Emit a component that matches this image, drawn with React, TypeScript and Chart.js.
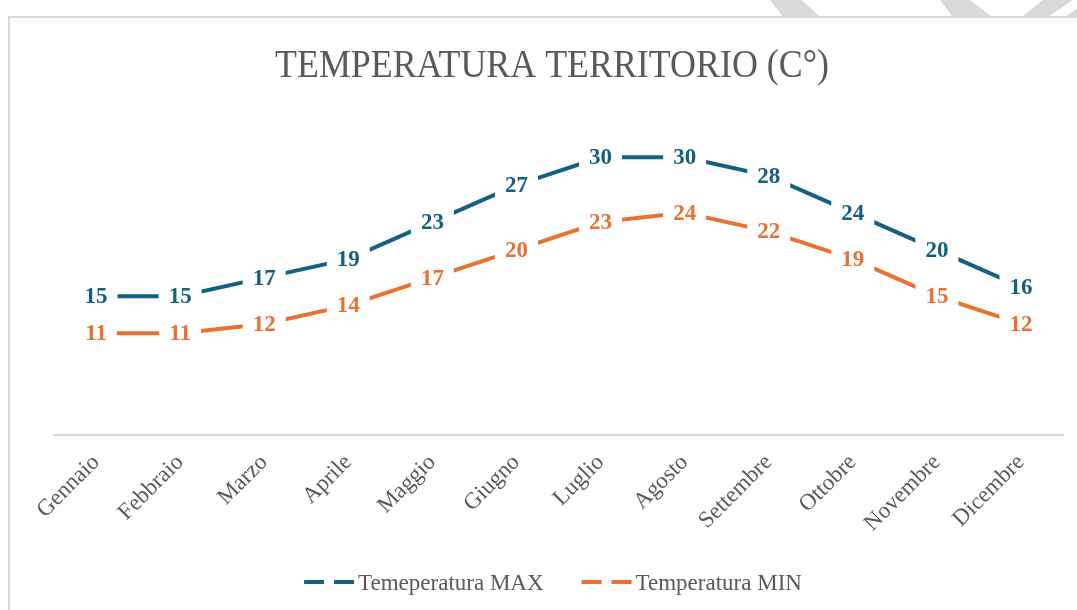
import React, { useEffect, useRef } from 'react';
import { Chart, registerables } from 'chart.js';

Chart.register(...registerables);

const months = ['Gennaio', 'Febbraio', 'Marzo', 'Aprile', 'Maggio', 'Giugno', 'Luglio', 'Agosto', 'Settembre', 'Ottobre', 'Novembre', 'Dicembre'];
const maxTemps = [15, 15, 17, 19, 23, 27, 30, 30, 28, 24, 20, 16];
const minTemps = [11, 11, 12, 14, 17, 20, 23, 24, 22, 19, 15, 12];
const seriesNames = ['Temeperatura MAX', 'Temperatura MIN'];
const seriesColors = ['#156082', '#E97132'];
const titleText = 'TEMPERATURA TERRITORIO (C°)';
const yRange = [0, 35];

const SERIF = '"Liberation Serif", "Times New Roman", serif';
const TEXT_GREY = '#595959';
const FRAME_GREY = '#d9d9d9';

const decorPlugin = {
  id: 'decor',
  beforeDraw(chart: any) {
    const ctx = chart.ctx;
    ctx.save();
    ctx.fillStyle = '#ffffff';
    ctx.fillRect(0, 0, chart.width, chart.height);
    // grey diagonal bands above the frame
    ctx.fillStyle = FRAME_GREY;
    const bands = [
      [[770, 0], [802, 0], [820, 17], [783, 17]],
      [[940, 0], [970, 0], [992, 17], [953, 17]],
      [[1043, 0], [1073, 0], [1048, 17], [1022, 17]],
      [[1090, 0], [1110, 0], [1110, 17], [1065, 17]],
    ];
    bands.forEach((b) => {
      ctx.beginPath();
      ctx.moveTo(b[0][0], b[0][1]);
      for (let i = 1; i < b.length; i++) ctx.lineTo(b[i][0], b[i][1]);
      ctx.closePath();
      ctx.fill();
    });
    // chart frame
    ctx.strokeStyle = FRAME_GREY;
    ctx.lineWidth = 2;
    ctx.strokeRect(9, 17, 1200, 700);
    ctx.restore();
  },
  afterDatasetsDraw(chart: any) {
    const ctx = chart.ctx;
    ctx.save();
    ctx.font = `bold 23px ${SERIF}`;
    ctx.textAlign = 'center';
    ctx.textBaseline = 'middle';
    chart.data.datasets.forEach((ds: any, di: number) => {
      const meta = chart.getDatasetMeta(di);
      meta.data.forEach((pt: any, i: number) => {
        const txt = String(ds.data[i]);
        const w = ctx.measureText(txt).width;
        ctx.fillStyle = '#ffffff';
        ctx.fillRect(pt.x - w / 2 - 10, pt.y - 14, w + 20, 28);
        ctx.fillStyle = seriesColors[di];
        ctx.fillText(txt, pt.x, pt.y + 1);
      });
    });
    ctx.restore();
  },
  afterDraw(chart: any) {
    const ctx = chart.ctx;
    ctx.save();
    // title (slightly condensed serif, as in the reference)
    ctx.save();
    ctx.translate(552, 77);
    ctx.scale(0.92, 1);
    ctx.font = `39px ${SERIF}`;
    ctx.fillStyle = TEXT_GREY;
    ctx.textAlign = 'center';
    ctx.textBaseline = 'alphabetic';
    ctx.fillText(titleText, 0, 0);
    ctx.restore();
    // legend
    ctx.font = `23px ${SERIF}`;
    const dashW = 20, dashGap = 10, textGap = 4, itemGap = 38;
    const symW = dashW * 2 + dashGap;
    const widths = seriesNames.map((n) => symW + textGap + ctx.measureText(n).width);
    const total = widths.reduce((a, b) => a + b, 0) + itemGap * (widths.length - 1);
    let x = 553 - total / 2;
    const yLine = 582;
    seriesNames.forEach((n, i) => {
      ctx.strokeStyle = seriesColors[i];
      ctx.lineWidth = 4;
      ctx.lineCap = 'butt';
      ctx.beginPath();
      ctx.moveTo(x, yLine);
      ctx.lineTo(x + dashW, yLine);
      ctx.moveTo(x + dashW + dashGap, yLine);
      ctx.lineTo(x + symW, yLine);
      ctx.stroke();
      ctx.fillStyle = TEXT_GREY;
      ctx.textAlign = 'left';
      ctx.fillText(n, x + symW + textGap, 590);
      x += widths[i] + itemGap;
    });
    ctx.restore();
  },
};

export default function App() {
  const ref = useRef<HTMLCanvasElement | null>(null);
  useEffect(() => {
    document.body.style.margin = '0';
    const canvas = ref.current;
    if (!canvas) return;
    const chart = new Chart(canvas, {
      type: 'line',
      data: {
        labels: months,
        datasets: [
          {
            label: seriesNames[0],
            data: maxTemps,
            borderColor: seriesColors[0],
            backgroundColor: seriesColors[0],
            borderWidth: 4,
            pointRadius: 0,
            tension: 0,
            borderCapStyle: 'butt',
          },
          {
            label: seriesNames[1],
            data: minTemps,
            borderColor: seriesColors[1],
            backgroundColor: seriesColors[1],
            borderWidth: 4,
            pointRadius: 0,
            tension: 0,
            borderCapStyle: 'butt',
          },
        ],
      },
      options: {
        responsive: false,
        animation: false,
        devicePixelRatio: 1,
        layout: { padding: { left: 54, right: 14, top: 111, bottom: 0 } },
        plugins: {
          legend: { display: false },
          title: { display: false },
          tooltip: { enabled: false },
        },
        scales: {
          x: {
            offset: true,
            grid: { display: false, drawTicks: false },
            border: { display: true, color: FRAME_GREY, width: 2 },
            ticks: {
              autoSkip: false,
              maxRotation: 45,
              minRotation: 45,
              padding: 14,
              color: TEXT_GREY,
              font: { family: SERIF, size: 23 },
            },
            afterFit: (scale: any) => {
              scale.height = 175;
            },
          },
          y: {
            display: false,
            min: yRange[0],
            max: yRange[1],
          },
        },
      },
      plugins: [decorPlugin],
    });
    return () => chart.destroy();
  }, []);
  return <canvas ref={ref} width={1077} height={610} style={{ display: 'block', width: 1077, height: 610 }} />;
}
